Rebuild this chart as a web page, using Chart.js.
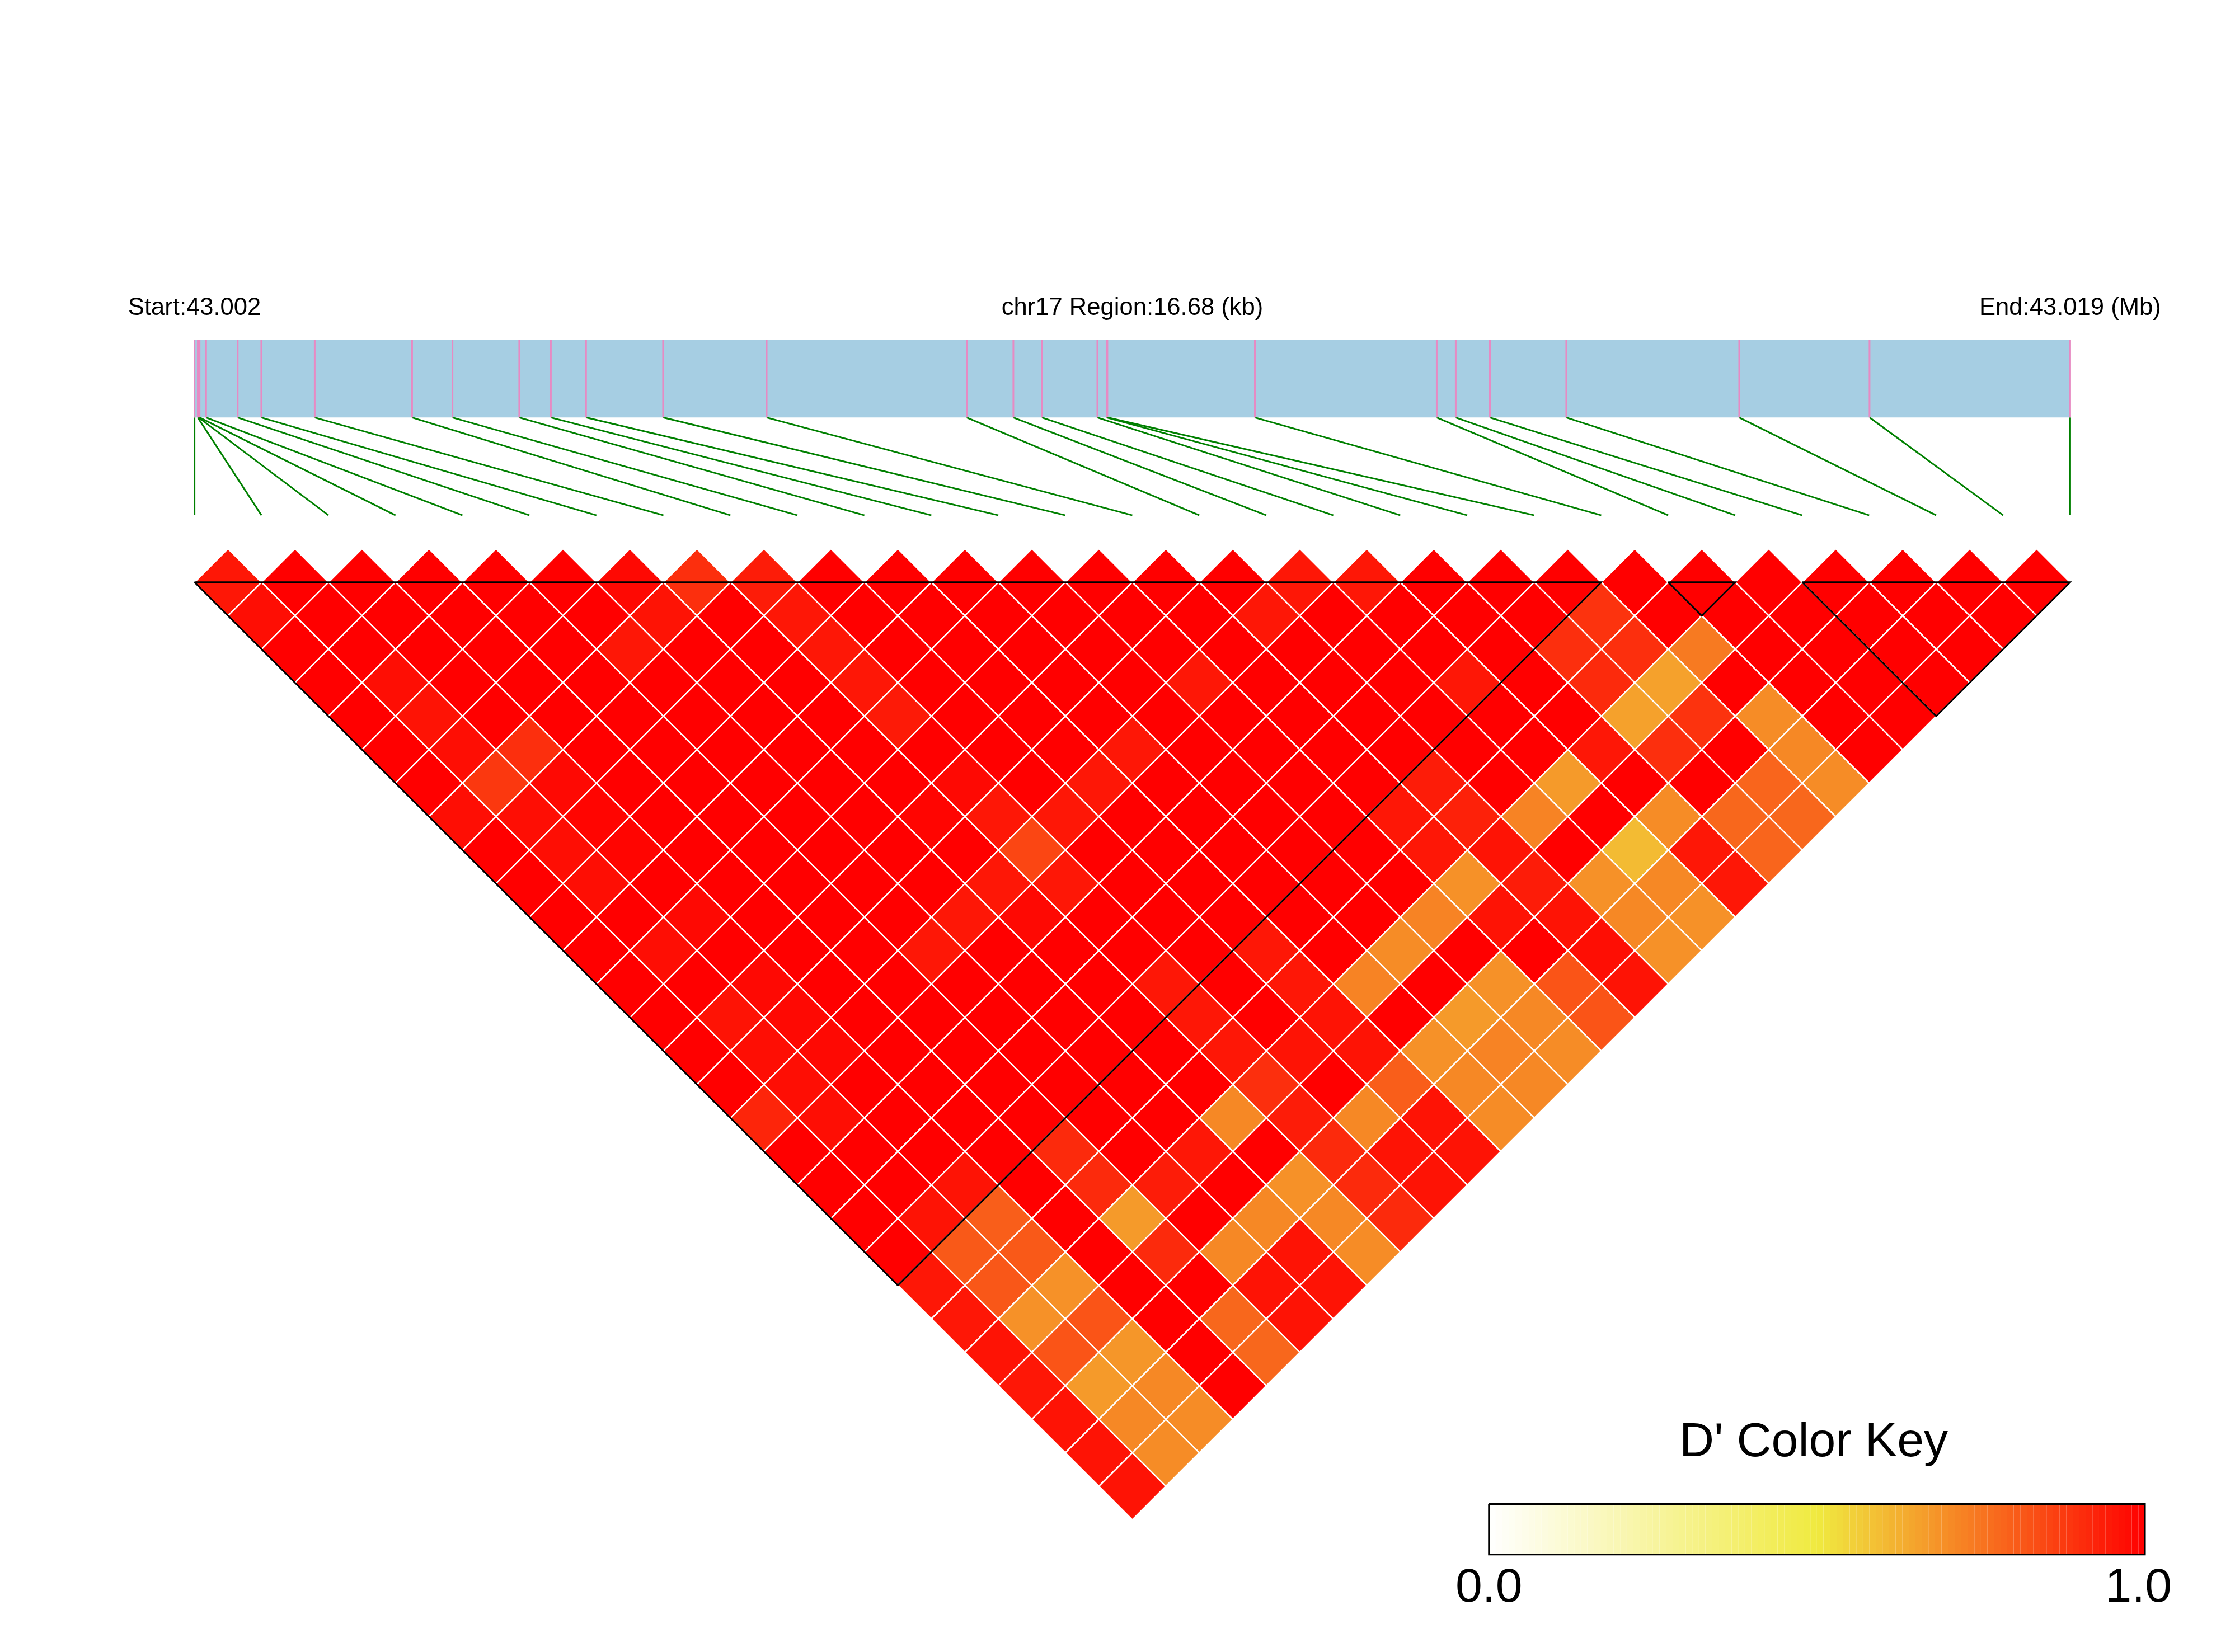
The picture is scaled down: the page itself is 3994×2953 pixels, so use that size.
<!DOCTYPE html>
<html>
<head>
<meta charset="utf-8">
<title>LD heatmap chr17</title>
<script src="https://cdn.jsdelivr.net/npm/chart.js@4/dist/chart.umd.min.js"></script>
<style>
html, body { margin: 0; padding: 0; background: #fff; }
canvas { display: block; }
</style>
</head>
<body>
<canvas id="ld-chart" width="3994" height="2953"></canvas>
<script>
// snp positions along the region, kb from the start
var snpKb = [0, 0.029, 0.037, 0.045, 0.103, 0.384, 0.594, 1.069, 1.935, 2.294, 2.888, 3.169, 3.482, 4.167, 5.088,
	6.867, 7.282, 7.536, 8.029, 8.111, 8.118, 9.430, 11.047, 11.216, 11.52, 12.199, 13.737, 14.896, 16.68];
var regionKb = 16.68;

// D' by snp distance: dPrime[0] = neighbours, dPrime[1] = one snp apart, ...
var dPrime = [
	[.95,1,1,1,1,1,.98,.90,.94,1,1,1,1,1,1,1,.95,.95,1,1,1,1,1,1,1,1,1,1],
	[.97,1,1,1,1,1,.96,1,.95,1,1,1,1,1,1,.95,1,1,1,1,.89,1,1,1,1,1,1],
	[1,1,1,1,1,.95,1,1,.95,1,1,1,1,1,1,1,1,1,1,.90,.90,.74,1,1,1,1],
	[1,.97,1,1,1,1,1,1,.95,1,1,1,1,.95,1,1,1,.95,1,.91,.655,1,1,1,1],
	[1,.96,1,1,1,1,1,1,.945,1,1,1,1,1,1,1,1,1,1,.655,.89,.70,1,1],
	[1,.97,.90,1,1,1,1,1,1,1,1,.95,1,1,1,1,1,1,.95,.90,1,.71,1],
	[1,.88,.98,1,1,1,1,1,.98,1,.95,1,1,1,1,.94,1,.67,1,1,.785,.70],
	[.97,.97,.99,1,1,1,1,.99,.95,.95,1,1,1,1,.95,.93,.72,1,.70,.78,.78],
	[1,.97,.99,1,1,1,1,1,.85,1,1,1,1,1,.95,.96,1,.60,.95,.785],
	[1,.97,1,1,1,1,1,.95,.95,1,1,1,1,1,.69,.94,.69,.71,.95],
	[1,1,.98,1,1,1,.95,.98,1,1,1,1,1,.72,.96,.96,.71,.69],
	[1,.97,1,1,1,.95,1,1,1,1,.95,1,.70,1,1,.97,.69],
	[1,1,.98,1,1,1,1,1,.95,1,.95,.72,1,.69,.82,.96],
	[1,.96,.98,1,1,1,1,1,.95,1,.96,1,.67,.71,.82],
	[1,.97,.98,1,1,1,1,1,.95,.96,.96,.69,.72,.70],
	[1,.97,1,1,1,1,1,1,.90,1,.80,.71,.71],
	[.92,.97,1,1,1,1,1,.71,.94,.71,.96,.70],
	[1,1,1,1,.91,1,.95,1,.91,.96,.96],
	[1,1,.96,1,.91,.94,1,.69,.91,.96],
	[1,.96,.80,1,.67,1,.71,.71,.91],
	[1,.81,.81,1,.91,.71,.96,.70],
	[.95,.815,.69,1,1,.96,.96],
	[.95,.69,.82,1,.78,.96],
	[.96,.82,.68,1,.78],
	[.95,.67,.71,1],
	[.96,.71,.70],
	[.96,.70],
	[.96]
];

// haplotype blocks, first and last snp slot
var blockStart = [0, 22, 24];
var blockEnd = [21, 23, 28];

var keySteps = 100;
var keyTickLabels = ["0.0", "1.0"];
var startLabel = "Start:43.002";
var regionLabel = "chr17 Region:16.68 (kb)";
var endLabel = "End:43.019 (Mb)";
var keyTitle = "D' Color Key";

// vertical layout, in row units
var trackTop = -7.25;
var trackBottom = -4.92;
var linkBottom = -2;
var keyTop = 27.53;
var keyBottom = 29.04;

function colorFor(v)
{
	var r, g, b, t;
	if(v < 0.5)
	{
		t = v / 0.5;
		r = 255 - 15 * t;
		g = 255 - 21 * t;
		b = 255 - 191 * t;
	}
	else
	{
		t = (v - 0.5) / 0.5;
		r = 240 + 15 * t;
		g = 234 * (1 - t);
		b = 64 * (1 - t);
	}
	return "rgb(" + Math.round(r) + "," + Math.round(g) + "," + Math.round(b) + ")";
}

function slotOf(kb)
{
	return kb / regionKb * (snpKb.length - 1);
}

function lineSet(points, color, width, order, axis)
{
	return {
		type: "scatter",
		data: points,
		showLine: true,
		borderColor: color,
		borderWidth: width,
		pointRadius: 0,
		order: order,
		xAxisID: axis || "x",
		clip: false
	};
}

function shapeSet(points, color, order, axis)
{
	var d = lineSet(points, color, 0, order, axis);
	d.fill = "shape";
	d.backgroundColor = color;
	return d;
}

var datasets = [];

// gene track
datasets.push(shapeSet([
	{x: 0, y: trackTop}, {x: 28, y: trackTop}, {x: 28, y: trackBottom}, {x: 0, y: trackBottom}, {x: 0, y: trackTop}
], "#A6CEE3", 30));

snpKb.forEach(function(kb, i)
{
	var s = slotOf(kb);
	datasets.push(lineSet([{x: s, y: trackTop}, {x: s, y: trackBottom}], "#E78AC3", 3, 20));
	datasets.push(lineSet([{x: s, y: trackBottom}, {x: i, y: linkBottom}], "#008000", 3, 20));
});

// heat cells
var cells = [];
var cellColors = [];
dPrime.forEach(function(row, k)
{
	row.forEach(function(v, i)
	{
		cells.push({x: i + (k + 1) / 2, y: k, v: v});
		cellColors.push(colorFor(v));
	});
});

datasets.push({
	type: "scatter",
	data: cells,
	pointStyle: "rectRot",
	pointRadius: function(ctx)
	{
		var sc = ctx.chart.scales.x;
		return sc.getPixelForValue(0.5) - sc.getPixelForValue(0);
	},
	pointBackgroundColor: cellColors,
	pointBorderColor: "#ffffff",
	pointBorderWidth: 2.5,
	order: 10,
	clip: false
});

// block outlines
blockStart.forEach(function(a, n)
{
	var b = blockEnd[n];
	datasets.push(lineSet([
		{x: a, y: 0}, {x: b, y: 0}, {x: (a + b) / 2, y: b - a}, {x: a, y: 0}
	], "#000000", 3, 5));
});

// colour key
for(var n = 0; n < keySteps; n++)
{
	var x0 = n / keySteps;
	var x1 = (n + 1) / keySteps;
	datasets.push(shapeSet([
		{x: x0, y: keyTop}, {x: x1, y: keyTop}, {x: x1, y: keyBottom}, {x: x0, y: keyBottom}, {x: x0, y: keyTop}
	], colorFor((n + 0.5) / keySteps), 4, "keyX"));
}
datasets.push(lineSet([
	{x: 0, y: keyTop}, {x: 1, y: keyTop}, {x: 1, y: keyBottom}, {x: 0, y: keyBottom}, {x: 0, y: keyTop}
], "#000000", 3, 1, "keyX"));

var textPlugin = {
	id: "ldText",
	afterDraw: function(chart)
	{
		var c = chart.ctx;
		var sx = chart.scales.x;
		var sy = chart.scales.y;
		var kx = chart.scales.keyX;
		c.save();
		c.fillStyle = "#000000";
		c.textAlign = "center";
		c.textBaseline = "alphabetic";

		c.font = "43.6px 'Liberation Sans'";
		var top = sy.getPixelForValue(-7.98);
		c.fillText(startLabel, sx.getPixelForValue(0), top);
		c.fillText(regionLabel, sx.getPixelForValue(14), top);
		c.fillText(endLabel, sx.getPixelForValue(28), top);

		c.font = "86px 'Liberation Sans'";
		c.fillText(keyTitle, kx.getPixelForValue(0.495), sy.getPixelForValue(26.11));
		c.fillText(keyTickLabels[0], kx.getPixelForValue(0), sy.getPixelForValue(30.45));
		c.fillText(keyTickLabels[1], kx.getPixelForValue(0.99), sy.getPixelForValue(30.45));
		c.restore();
	}
};

var ctx = document.getElementById("ld-chart").getContext("2d");

var ldChart = new Chart(ctx, {
	type: "scatter",
	data: { datasets: datasets },
	options: {
		responsive: false,
		animation: false,
		devicePixelRatio: 1,
		layout: { padding: 0 },
		plugins: {
			legend: { display: false },
			tooltip: { enabled: false },
			title: { display: false }
		},
		scales: {
			x: { type: "linear", display: false, min: -2.9037, max: 30.461 },
			y: { type: "linear", display: false, reverse: true, min: -17.39, max: 31.95 },
			keyX: { type: "linear", axis: "x", display: false, min: -2.2697, max: 1.1373 }
		}
	},
	plugins: [textPlugin]
});
</script>
</body>
</html>
